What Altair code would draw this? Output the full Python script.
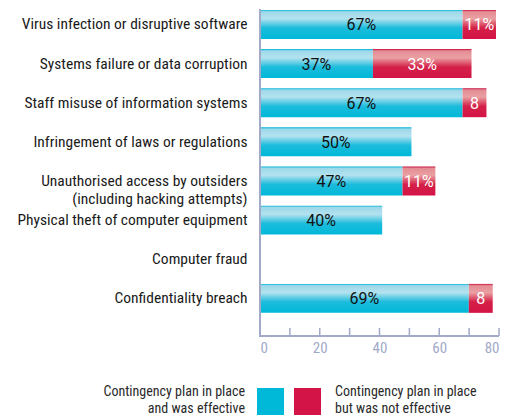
import altair as alt
import pandas as pd

categories = [
    "Virus infection or disruptive software",
    "Systems failure or data corruption",
    "Staff misuse of information systems",
    "Infringement of laws or regulations",
    "Unauthorised access by outsiders|(including hacking attempts)",
    "Physical theft of computer equipment",
    "Computer fraud",
    "Confidentiality breach",
]
effective = [67.8, 37.8, 67.8, 50.7, 47.7, 40.9, 0, 69.9]
not_effective = [11.2, 33, 8, 0, 11, 0, 0, 8]
effective_labels = ["67%", "37%", "67%", "50%", "47%", "40%", "", "69%"]
not_effective_labels = ["11%", "33%", "8", "", "11%", "", "", "8"]
x_ticks = [0, 10, 20, 30, 40, 50, 60, 70, 80]
legend_names = ["Contingency plan in place|and was effective",
                "Contingency plan in place|but was not effective"]

W, H = 239, 327
COND = "Roboto Condensed"
REG = "Roboto"
AXIS_COL = "#a2aac8"

df = pd.DataFrame({
    "cat": categories,
    "eff": effective,
    "neff": not_effective,
    "effl": effective_labels,
    "neffl": not_effective_labels,
})
df["end"] = df["eff"] + df["neff"]
df["effmid"] = df["eff"] / 2
df["neffmid"] = df["eff"] + df["neff"] / 2
df["zero"] = 0

xs = alt.Scale(domain=[0, 80], nice=False, zero=False)
ys = alt.Scale(domain=categories, paddingInner=0.26, paddingOuter=0.308, align=0.04)

base = alt.Chart(df)
y_enc = alt.Y("cat:N", scale=ys, sort=categories, title=None,
              axis=alt.Axis(domain=False, ticks=False, tickSize=0, labelPadding=13,
                            labelFont=COND, labelFontSize=15.5, labelColor="#1a1a1a",
                            labelLimit=400, labelLineHeight=18.5,
                            minExtent=252, maxExtent=252,
                            labelExpr="split(datum.label, '|')"))

cyan_grad = alt.Gradient(
    gradient="linear", x1=0, x2=0, y1=0, y2=1,
    stops=[
        alt.GradientStop(offset=0, color="#00b4d6"),
        alt.GradientStop(offset=0.06, color="#9dd8ea"),
        alt.GradientStop(offset=0.3, color="#b4e2ef"),
        alt.GradientStop(offset=0.62, color="#1cbcdc"),
        alt.GradientStop(offset=1, color="#00b8d8"),
    ],
)
red_grad = alt.Gradient(
    gradient="linear", x1=0, x2=0, y1=0, y2=1,
    stops=[
        alt.GradientStop(offset=0, color="#c8103e"),
        alt.GradientStop(offset=0.06, color="#e48c94"),
        alt.GradientStop(offset=0.3, color="#eaa0a2"),
        alt.GradientStop(offset=0.62, color="#d42048"),
        alt.GradientStop(offset=1, color="#d31446"),
    ],
)

eff_bars = base.transform_filter("datum.eff > 0").mark_bar(color=cyan_grad).encode(
    x=alt.X("zero:Q", scale=xs,
            axis=alt.Axis(domain=False, ticks=False, tickSize=0, grid=False,
                          values=x_ticks, labelFont=COND, labelFontSize=15,
                          labelColor=AXIS_COL, labelPadding=4, title=None)),
    x2="eff:Q",
    y=y_enc,
)
neff_bars = base.transform_filter("datum.neff > 0").mark_bar(color=red_grad).encode(
    x=alt.X("eff:Q", scale=xs), x2="end:Q", y=alt.Y("cat:N", scale=ys, sort=categories),
)
eff_text = base.mark_text(font=REG, fontSize=16, color="#111111", dy=1).encode(
    x=alt.X("effmid:Q", scale=xs), y=alt.Y("cat:N", scale=ys, sort=categories),
    text="effl:N",
)
neff_text = base.mark_text(font=REG, fontSize=16, color="#ffffff", dy=1).encode(
    x=alt.X("neffmid:Q", scale=xs), y=alt.Y("cat:N", scale=ys, sort=categories),
    text="neffl:N",
)

ticks_df = pd.DataFrame({"t": x_ticks})
tick_rules = alt.Chart(ticks_df).mark_rule(color=AXIS_COL, strokeWidth=1.5).encode(
    x=alt.X("t:Q", scale=xs), y=alt.value(H - 8), y2=alt.value(H),
)
x_line = alt.Chart(pd.DataFrame({"a": [0], "b": [80]})).mark_rule(
    color=AXIS_COL, strokeWidth=2).encode(
    x=alt.X("a:Q", scale=xs), x2="b:Q", y=alt.value(H),
)
y_line = alt.Chart(pd.DataFrame({"a": [0]})).mark_rule(
    color=AXIS_COL, strokeWidth=2).encode(
    x=alt.X("a:Q", scale=xs), y=alt.value(0), y2=alt.value(H + 1),
)

leg_cyan = alt.Chart(pd.DataFrame({"k": [0]})).mark_rect(color="#00b9d9").encode(
    x=alt.value(-3), x2=alt.value(24), y=alt.value(379), y2=alt.value(406))
leg_red = alt.Chart(pd.DataFrame({"k": [0]})).mark_rect(color="#d31446").encode(
    x=alt.value(34), x2=alt.value(61), y=alt.value(379), y2=alt.value(406))
leg_t1 = alt.Chart(pd.DataFrame({"name": [legend_names[0]]})).transform_calculate(
    lines="split(datum.name, '|')").mark_text(
    font=COND, fontSize=14, color="#2a2a2a", align="right", baseline="top",
    lineHeight=16.5).encode(x=alt.value(-15), y=alt.value(376), text="lines:N")
leg_t2 = alt.Chart(pd.DataFrame({"name": [legend_names[1]]})).transform_calculate(
    lines="split(datum.name, '|')").mark_text(
    font=COND, fontSize=14, color="#2a2a2a", align="left", baseline="top",
    lineHeight=16.5).encode(x=alt.value(75), y=alt.value(376), text="lines:N")

chart = alt.layer(
    eff_bars, neff_bars, eff_text, neff_text, tick_rules, x_line, y_line,
    leg_cyan, leg_red, leg_t1, leg_t2,
).properties(width=W, height=H, padding=0).configure_view(stroke=None)

chart.save("out.html", embed_options={"renderer": "svg", "actions": False})
